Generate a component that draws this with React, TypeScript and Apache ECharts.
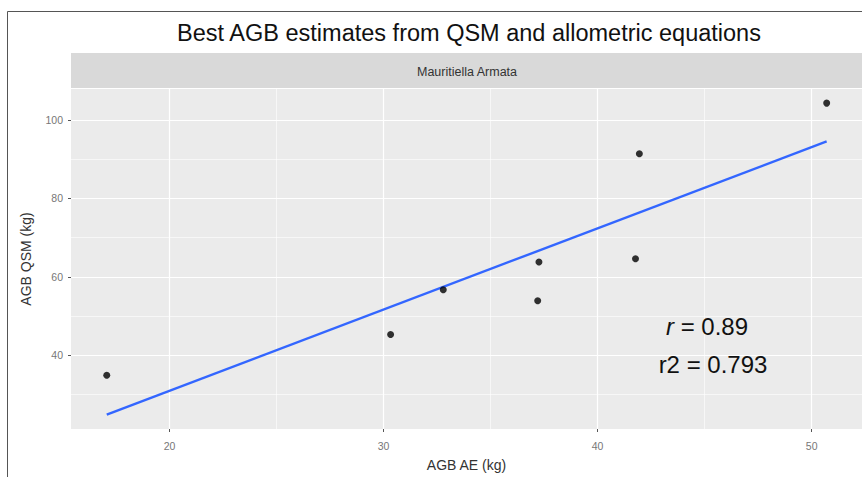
import React, { useEffect, useRef } from "react";
import * as echarts from "echarts";

// Data (AGB AE vs AGB QSM, kg)
const agbAE = [17.07, 30.33, 32.79, 37.26, 37.2, 41.77, 41.95, 50.7];
const agbQSM = [34.9, 45.3, 56.7, 63.8, 53.9, 64.6, 91.4, 104.3];

const xTicks = [20, 30, 40, 50];
const xMinorTicks = [25, 35, 45];
const yTicks = [40, 60, 80, 100];
const yMinorTicks = [30, 50, 70, 90];

const titleText = "Best AGB estimates from QSM and allometric equations";
const stripText = "Mauritiella Armata";
const xName = "AGB AE (kg)";
const yName = "AGB QSM (kg)";
const rText = "0.89";
const r2Text = "0.793";

const FONT = "Liberation Sans, Arial, Helvetica, sans-serif";

function linearFit(xs: number[], ys: number[]) {
  const n = xs.length;
  const mx = xs.reduce((a, b) => a + b, 0) / n;
  const my = ys.reduce((a, b) => a + b, 0) / n;
  let sxy = 0;
  let sxx = 0;
  for (let i = 0; i < n; i++) {
    sxy += (xs[i] - mx) * (ys[i] - my);
    sxx += (xs[i] - mx) * (xs[i] - mx);
  }
  const slope = sxy / sxx;
  const intercept = my - slope * mx;
  return { slope, intercept };
}

export default function App() {
  const ref = useRef<HTMLDivElement>(null);

  useEffect(() => {
    document.body.style.margin = "0";
    if (!ref.current) return;
    const chart = echarts.init(ref.current, undefined, { renderer: "svg" });

    const fit = linearFit(agbAE, agbQSM);
    const xmin = Math.min(...agbAE);
    const xmax = Math.max(...agbAE);
    const fitLine = [
      [xmin, fit.intercept + fit.slope * xmin],
      [xmax, fit.intercept + fit.slope * xmax],
    ];
    const points = agbAE.map((x, i) => [x, agbQSM[i]]);

    const gridLines = [
      ...xMinorTicks.map((v) => ({ xAxis: v, lineStyle: { color: "#ffffff", width: 0.6, type: "solid" } })),
      ...yMinorTicks.map((v) => ({ yAxis: v, lineStyle: { color: "#ffffff", width: 0.6, type: "solid" } })),
      ...xTicks.map((v) => ({ xAxis: v, lineStyle: { color: "#ffffff", width: 1.2, type: "solid" } })),
      ...yTicks.map((v) => ({ yAxis: v, lineStyle: { color: "#ffffff", width: 1.2, type: "solid" } })),
    ];

    chart.setOption({
      animation: false,
      backgroundColor: "#ffffff",
      textStyle: { fontFamily: FONT },
      grid: {
        left: 71,
        right: 0,
        top: 89,
        bottom: 47,
        show: true,
        backgroundColor: "#ebebeb",
        borderWidth: 0,
      },
      xAxis: {
        type: "value",
        min: 15.4,
        max: 52.35,
        name: xName,
        nameLocation: "middle",
        nameGap: 29,
        nameTextStyle: { fontSize: 14, color: "#333", fontFamily: FONT },
        axisLine: { show: false },
        axisTick: { show: true, length: 3, lineStyle: { color: "#555" }, customValues: xTicks },
        axisLabel: { customValues: xTicks, color: "#777", fontSize: 10.5, margin: 11, fontFamily: FONT },
        splitLine: { show: false },
      },
      yAxis: {
        type: "value",
        min: 21.2,
        max: 107.9,
        name: yName,
        nameLocation: "middle",
        nameGap: 38,
        nameTextStyle: { fontSize: 14, color: "#333", fontFamily: FONT },
        axisLine: { show: false },
        axisTick: { show: true, length: 3, lineStyle: { color: "#555" }, customValues: yTicks },
        axisLabel: { customValues: yTicks, color: "#777", fontSize: 10.5, margin: 8, fontFamily: FONT },
        splitLine: { show: false },
      },
      series: [
        {
          type: "scatter",
          z: 1,
          data: [],
          silent: true,
          markLine: {
            z: 1,
            silent: true,
            symbol: ["none", "none"],
            label: { show: false },
            emphasis: { disabled: true },
            data: gridLines,
          },
        },
        {
          type: "line",
          z: 3,
          data: fitLine,
          showSymbol: false,
          symbol: "none",
          lineStyle: { color: "#3366FF", width: 2.4 },
          silent: true,
        },
        {
          type: "scatter",
          z: 4,
          data: points,
          symbolSize: 7,
          itemStyle: { color: "#000000" },
          silent: true,
        },
      ],
      graphic: [
        {
          type: "rect",
          z: 100,
          silent: true,
          shape: { x: 7.5, y: 11.5, width: 900, height: 500 },
          style: { fill: "none", stroke: "#555555", lineWidth: 1 },
        },
        {
          type: "rect",
          silent: true,
          shape: { x: 71, y: 53, width: 800, height: 35 },
          style: { fill: "#d9d9d9" },
        },
        {
          type: "text",
          silent: true,
          x: 467,
          y: 72,
          style: {
            text: stripText,
            fill: "#333",
            font: `12.5px ${FONT}`,
            align: "center",
            verticalAlign: "middle",
          },
        },
        {
          type: "text",
          silent: true,
          x: 469,
          y: 33,
          style: {
            text: titleText,
            fill: "#111",
            font: `23.5px ${FONT}`,
            align: "center",
            verticalAlign: "middle",
          },
        },
        {
          type: "text",
          silent: true,
          z: 50,
          x: 707,
          y: 326,
          style: {
            text: `{i|r} = ${rText}`,
            fill: "#111",
            font: `24px ${FONT}`,
            align: "center",
            verticalAlign: "middle",
            rich: {
              i: { fontStyle: "italic", fontSize: 24, fontFamily: FONT, fill: "#111" },
            },
          },
        },
        {
          type: "text",
          silent: true,
          z: 50,
          x: 713,
          y: 364,
          style: {
            text: `r2 = ${r2Text}`,
            fill: "#111",
            font: `24px ${FONT}`,
            align: "center",
            verticalAlign: "middle",
          },
        },
      ],
    });

    return () => {
      chart.dispose();
    };
  }, []);

  return <div ref={ref} style={{ position: "absolute", left: 0, top: 0, width: 862, height: 477 }} />;
}
